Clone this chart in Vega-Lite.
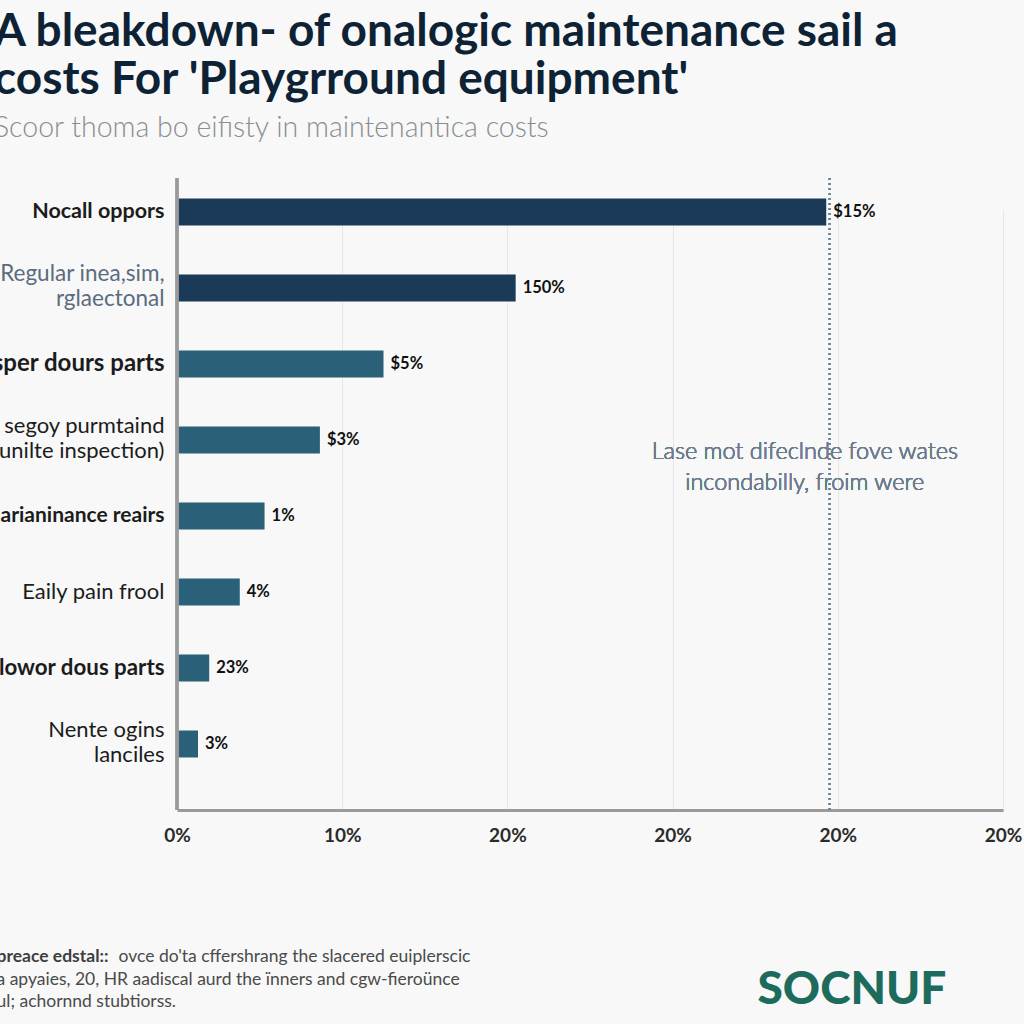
{
  "$schema": "https://vega.github.io/schema/vega-lite/v6.json",
  "width": 826,
  "height": 632,
  "autosize": {"type": "none"},
  "padding": {"left": 177, "top": 178, "right": 21, "bottom": 214},
  "background": "#f7f8f7",
  "title": {
    "text": ["A bleakdown- of onalogic maintenance sail a", "costs For 'Playgrround equipment'"],
    "subtitle": "Scoor thoma bo eifisty in maintenantica costs",
    "anchor": "start",
    "frame": "group",
    "dx": -183,
    "offset": 33,
    "font": "Lato",
    "fontSize": 46,
    "fontWeight": 700,
    "color": "#0e2235",
    "lineHeight": 48,
    "subtitleFont": "Lato",
    "subtitleFontSize": 28.5,
    "subtitleFontWeight": 300,
    "subtitleColor": "#8a8e92",
    "subtitlePadding": 10
  },
  "data": {
    "values": [
      {"cat": "Nocall oppors", "value": 39.3, "label": "$15%"},
      {"cat": "Regular inea,sim,|rglaectonal", "value": 20.5, "label": "150%"},
      {"cat": "Casper dours parts", "value": 12.5, "label": "$5%"},
      {"cat": "i. segoy purmtaind|(unilte inspection)", "value": 8.65, "label": "$3%"},
      {"cat": "Marianinance reairs", "value": 5.3, "label": "1%"},
      {"cat": "Eaily pain frool", "value": 3.8, "label": "4%"},
      {"cat": "Flowor dous parts", "value": 1.95, "label": "23%"},
      {"cat": "Nente ogins|lanciles", "value": 1.27, "label": "3%"}
    ]
  },
  "layer": [
    {
      "mark": {"type": "rule", "strokeDash": [2, 3], "color": "#6f8396", "strokeWidth": 1.5},
      "encoding": {
        "x": {"datum": 39.5, "type": "quantitative", "axis": null}
      }
    },
    {
      "mark": {"type": "bar"},
      "encoding": {
        "y": {
          "field": "cat", "type": "nominal", "sort": null,
          "scale": {"range": [0, 600], "paddingInner": 0.645, "paddingOuter": 0.27},
          "axis": {
            "orient": "left",
            "domain": false, "ticks": false, "tickSize": 0, "grid": false,
            "labelPadding": 13,
            "labelExpr": "split(datum.label, '|')",
            "labelFont": "Lato",
            "labelLineHeight": 25,
            "labelLimit": 400,
            "labelOffset": {"condition": {"test": "indexof(datum.value, '|') >= 0", "value": -14}, "value": 0},
            "labelFontWeight": {"condition": {"test": "indexof(['Nocall oppors','Casper dours parts','Marianinance reairs','Flowor dous parts'], datum.value) >= 0", "value": "bold"}, "value": "normal"},
            "labelFontSize": {"condition": [
              {"test": "datum.value == 'Casper dours parts'", "value": 24},
              {"test": "datum.value == 'Flowor dous parts'", "value": 22.3},
              {"test": "datum.value == 'Nocall oppors'", "value": 21.5},
              {"test": "datum.value == 'Marianinance reairs'", "value": 21},
              {"test": "datum.value == 'Regular inea,sim,|rglaectonal'", "value": 22.5}
            ], "value": 22},
            "labelColor": {"condition": {"test": "datum.value == 'Regular inea,sim,|rglaectonal'", "value": "#5b6c7e"}, "value": "#1c1c1c"},
            "title": "SOCNUF",
            "titleAngle": 0,
            "titleAlign": "left",
            "titleBaseline": "alphabetic",
            "titleX": 580,
            "titleY": 825,
            "titleFont": "Lato",
            "titleFontSize": 46,
            "titleFontWeight": 900,
            "titleColor": "#1d6b5c"
          }
        },
        "x": {
          "field": "value", "type": "quantitative",
          "scale": {"domain": [0, 50], "nice": false},
          "axis": {
            "orient": "bottom",
            "values": [0, 10, 20, 30, 40, 50],
            "labelExpr": "datum.value == 0 ? '0%' : datum.value == 10 ? '10%' : '20%'",
            "labelFont": "Lato",
            "labelFontSize": 19,
            "labelFontWeight": "bold",
            "labelColor": "#2b2b2b",
            "labelPadding": 16,
            "labelFlush": false,
            "ticks": false,
            "tickSize": 0,
            "domainColor": "#9a9a9a",
            "domainWidth": 3,
            "grid": true,
            "gridColor": "#e6e8e8",
            "gridWidth": 1,
            "title": "ovce do'ta cffershrang the slacered euiplerscic",
            "titleX": -59,
            "titleY": 151,
            "titleAlign": "left",
            "titleAnchor": "start",
            "titleBaseline": "alphabetic",
            "titleFont": "Lato",
            "titleFontSize": 17.5,
            "titleFontWeight": "normal",
            "titleColor": "#4a4a4a"
          }
        },
        "color": {
          "condition": {"test": "datum.value > 15", "value": "#1b3a57"},
          "value": "#2a6078"
        }
      }
    },
    {
      "mark": {"type": "text", "align": "left", "baseline": "middle", "dx": 7, "font": "Lato", "fontSize": 16.5, "fontWeight": "bold", "color": "#111111"},
      "encoding": {
        "y": {
          "field": "cat", "type": "nominal", "sort": null,
          "axis": {
            "orient": "right",
            "domain": false, "ticks": false, "labels": false, "grid": false,
            "title": "preace edstal::",
            "titleAngle": 0,
            "titleAlign": "left",
            "titleBaseline": "alphabetic",
            "titleX": -1007,
            "titleY": 783,
            "titleFont": "Lato",
            "titleFontSize": 17.5,
            "titleFontWeight": "bold",
            "titleColor": "#3e3e3e"
          }
        },
        "x": {
          "field": "value", "type": "quantitative",
          "axis": {
            "orient": "top",
            "domain": false, "ticks": false, "labels": false, "grid": false,
            "title": ["a apyaies, 20, HR aadiscal aurd the ïnners and cgw-fieroünce", "ul; achornnd stubtiorss."],
            "titleX": -181,
            "titleY": 806,
            "titleAlign": "left",
            "titleAnchor": "start",
            "titleBaseline": "alphabetic",
            "titleLineHeight": 22.5,
            "titleFont": "Lato",
            "titleFontSize": 17.5,
            "titleFontWeight": "normal",
            "titleColor": "#4a4a4a"
          }
        },
        "text": {"field": "label"}
      }
    },
    {
      "mark": {"type": "text", "align": "center", "baseline": "middle", "dy": 12, "font": "Lato", "fontSize": 23.5, "fontWeight": 300, "lineHeight": 31, "color": "#6a7c8e"},
      "encoding": {
        "x": {"datum": 38.0, "type": "quantitative", "axis": null},
        "y": {"datum": "i. segoy purmtaind|(unilte inspection)", "type": "nominal", "axis": null},
        "text": {"value": ["Lase mot difeclnde fove wates", "incondabilly, froim were"]}
      }
    },
    {
      "mark": {"type": "rule", "color": "#9a9a9a", "strokeWidth": 2.5},
      "encoding": {
        "x": {"datum": 0, "type": "quantitative", "axis": null}
      }
    }
  ],
  "resolve": {"axis": {"x": "independent", "y": "independent"}},
  "config": {
    "view": {"stroke": null},
    "font": "Lato"
  }
}
